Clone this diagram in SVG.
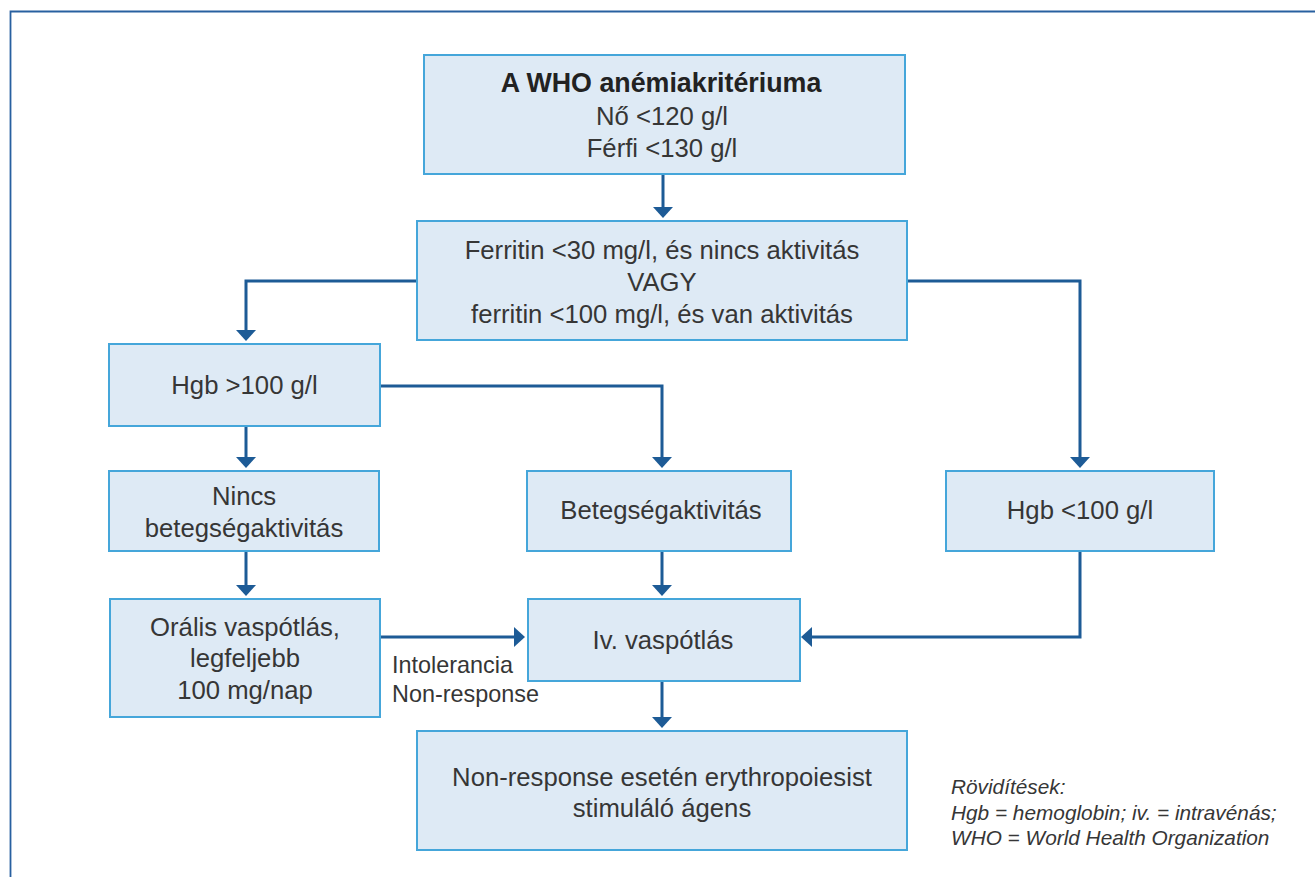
<svg xmlns="http://www.w3.org/2000/svg" width="1315" height="877" viewBox="0 0 1315 877">
<defs>
<style>
.box{fill:#deeaf5;stroke:#45a6da;stroke-width:2}
.t{font-family:"Liberation Sans",Arial,sans-serif;font-size:25.7px;fill:#363636;text-anchor:middle}
.b{font-weight:bold;font-size:26.8px;fill:#222222}
.lbl{font-family:"Liberation Sans",Arial,sans-serif;font-size:23.4px;fill:#363636}
.abbr{font-family:"Liberation Sans",Arial,sans-serif;font-size:20.8px;font-style:italic;fill:#363636}
.c{fill:none;stroke:#1d5b96;stroke-width:3}
</style>
<marker id="ah" viewBox="0 0 11 20" refX="6" refY="10" markerWidth="11" markerHeight="20" markerUnits="userSpaceOnUse" orient="auto">
<path d="M0,0 L11,10 L0,20 z" fill="#1d5b96"/>
</marker>
</defs>
<rect width="1315" height="877" fill="#ffffff"/>
<path d="M10.5,877 V11.5 H1315" fill="none" stroke="#2860a0" stroke-width="1.8"/>

<g id="connectors">
<path class="c" d="M663,175 V213" marker-end="url(#ah)"/>
<path class="c" d="M417,281 H246 V336" marker-end="url(#ah)"/>
<path class="c" d="M907,281 H1080 V463" marker-end="url(#ah)"/>
<path class="c" d="M380,386 H662 V463" marker-end="url(#ah)"/>
<path class="c" d="M246,426 V463" marker-end="url(#ah)"/>
<path class="c" d="M246,551 V591" marker-end="url(#ah)"/>
<path class="c" d="M662,551 V591" marker-end="url(#ah)"/>
<path class="c" d="M380,637 H520" marker-end="url(#ah)"/>
<path class="c" d="M1080,551 V637 H806" marker-end="url(#ah)"/>
<path class="c" d="M662,681 V723" marker-end="url(#ah)"/>
</g>

<g id="who">
<rect class="box" x="424" y="55" width="481" height="119"/>
<text class="t b" x="661" y="92">A WHO anémiakritériuma</text>
<text class="t" x="662" y="125">Nő &lt;120 g/l</text>
<text class="t" x="662" y="157">Férfi &lt;130 g/l</text>
</g>

<g id="ferritin">
<rect class="box" x="417" y="221" width="490" height="119"/>
<text class="t" x="662" y="259">Ferritin &lt;30 mg/l, és nincs aktivitás</text>
<text class="t" x="662" y="291">VAGY</text>
<text class="t" x="662" y="323">ferritin &lt;100 mg/l, és van aktivitás</text>
</g>

<g id="hgb-high">
<rect class="box" x="109" y="344" width="271" height="82"/>
<text class="t" x="244.5" y="394">Hgb &gt;100 g/l</text>
</g>

<g id="nincs">
<rect class="box" x="109" y="471" width="270" height="80"/>
<text class="t" x="244" y="505">Nincs</text>
<text class="t" x="244" y="537">betegségaktivitás</text>
</g>

<g id="betegseg">
<rect class="box" x="527" y="471" width="264" height="80"/>
<text class="t" x="661" y="519">Betegségaktivitás</text>
</g>

<g id="hgb-low">
<rect class="box" x="946" y="471" width="268" height="80"/>
<text class="t" x="1080" y="519">Hgb &lt;100 g/l</text>
</g>

<g id="oralis">
<rect class="box" x="110" y="599" width="270" height="118"/>
<text class="t" x="245" y="636">Orális vaspótlás,</text>
<text class="t" x="245" y="667">legfeljebb</text>
<text class="t" x="245" y="699">100 mg/nap</text>
</g>

<g id="iv">
<rect class="box" x="528" y="599" width="272" height="82"/>
<text class="t" x="663" y="649">Iv. vaspótlás</text>
</g>

<g id="label-intolerancia">
<text class="lbl" x="392" y="673">Intolerancia</text>
<text class="lbl" x="392" y="702">Non-response</text>
</g>

<g id="esa">
<rect class="box" x="417" y="731" width="490" height="119"/>
<text class="t" x="662" y="786">Non-response esetén erythropoiesist</text>
<text class="t" x="662" y="817">stimuláló ágens</text>
</g>

<g id="abbreviations">
<text class="abbr" x="951" y="794">Rövidítések:</text>
<text class="abbr" x="951" y="820">Hgb = hemoglobin; iv. = intravénás;</text>
<text class="abbr" x="951" y="845">WHO = World Health Organization</text>
</g>
</svg>
